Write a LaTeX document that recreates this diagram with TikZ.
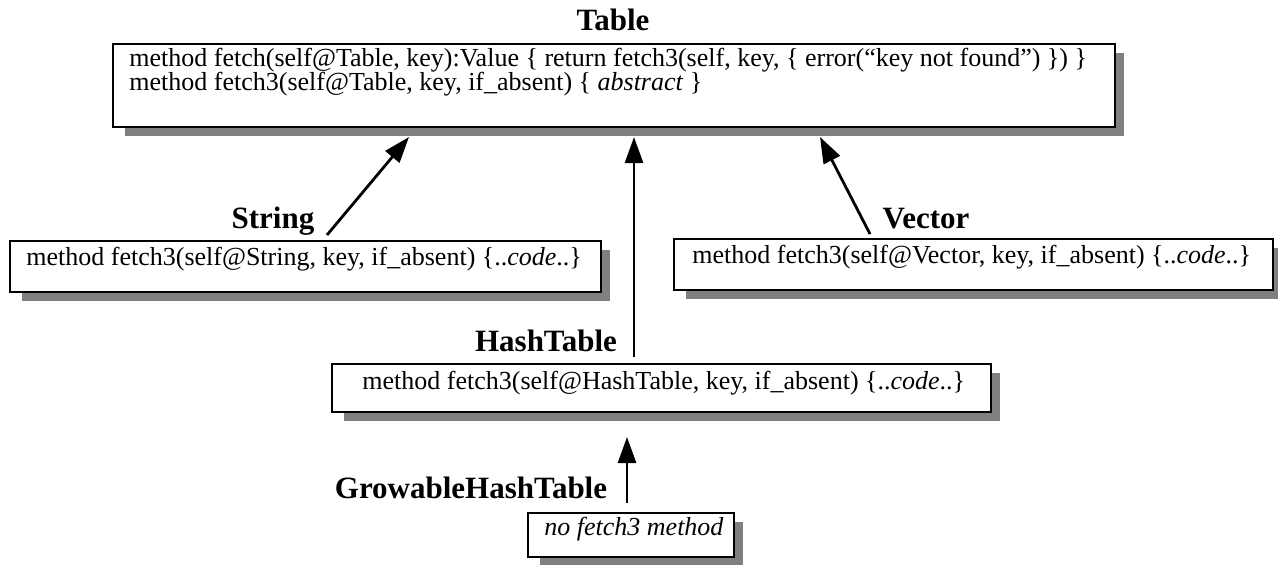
\documentclass[tikz,border=0pt]{standalone}
\usepackage{fontspec}
\setmainfont{Liberation Serif}
\usetikzlibrary{arrows.meta,backgrounds}
\definecolor{shadowc}{HTML}{808080}
\begin{document}
\begin{tikzpicture}[x=0.5pt,y=-0.5pt,
  box/.style={draw=black, line width=0.75pt, fill=white, anchor=north west, inner sep=0pt},
  txt/.style={anchor=base west, inner sep=0pt, font=\fontsize{13}{12}\selectfont},
  ttl/.style={anchor=base, inner sep=0pt, font=\fontsize{15.5}{16}\selectfont\bfseries},
  arr/.style={line width=1.4pt, -{Triangle[length=13pt,width=9pt]}},
  shd/.style={fill=shadowc}]
\useasboundingbox (0,0) rectangle (1278,564);

% boxes
\node[box, minimum width=501pt, minimum height=41.5pt] (tableBox) at (112,43) {};
\node[box, minimum width=295.5pt, minimum height=25.5pt] (strBox) at (9,240) {};
\node[box, minimum width=299.5pt, minimum height=25.5pt] (vecBox) at (673,238) {};
\node[box, minimum width=329.5pt, minimum height=24pt] (hashBox) at (331,363) {};
\node[box, minimum width=103pt, minimum height=22pt] (ghtBox) at (527,512) {};

% shadows
\begin{scope}[on background layer]
  \foreach \b in {tableBox,strBox,vecBox,hashBox,ghtBox}{
    \fill[shd] ([xshift=6.5pt,yshift=-5pt]\b.north west) rectangle ([xshift=4pt,yshift=-4pt]\b.south east);
  }
\end{scope}

% texts
\node[txt] (tableL1) at (129,66) {method fetch(self@Table, key):Value \{ return fetch3(self, key, \{ error(“key not found”) \}) \}};
\node[txt] (tableL2) at (129,90) {method fetch3(self@Table, key, if\_absent) \{ \textit{abstract} \}};
\node[txt] (strL) at (26,265) {method fetch3(self@String, key, if\_absent) \{..\textit{code}..\}};
\node[txt] (vecL) at (692,263) {method fetch3(self@Vector, key, if\_absent) \{..\textit{code}..\}};
\node[txt] (hashL) at (362,389) {method fetch3(self@HashTable, key, if\_absent) \{..\textit{code}..\}};
\node[txt] (ghtL) at (544,535) {\textit{no fetch3 method}};

% titles
\node[ttl] (tableT) at (613,30) {Table};
\node[ttl] (strT) at (273,228) {String};
\node[ttl] (vecT) at (926,228) {Vector};
\node[ttl] (hashT) at (546,351) {HashTable};
\node[ttl] (ghtT) at (471,498) {GrowableHashTable};

% connectors
\coordinate (strStart) at (327,235);
\coordinate (strTip) at (409,137);
\coordinate (hashStart) at (634,357);
\coordinate (hashTip) at (634,137);
\coordinate (vecStart) at (870,234);
\coordinate (vecTip) at (820,137);
\coordinate (ghtStart) at (627,503);
\coordinate (ghtTip) at (627,437);
\draw[arr] (strStart) -- (strTip);
\draw[arr] (hashStart) -- (hashTip);
\draw[arr] (vecStart) -- (vecTip);
\draw[arr] (ghtStart) -- (ghtTip);
\end{tikzpicture}
\end{document}
